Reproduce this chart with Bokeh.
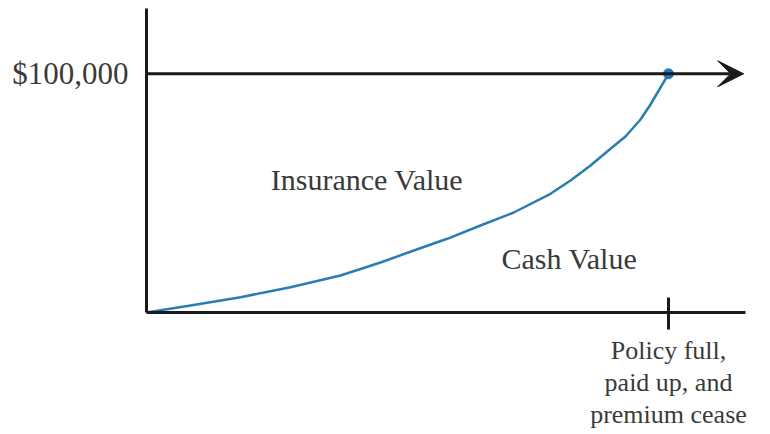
from bokeh.plotting import figure
from bokeh.models import FixedTicker, Arrow, VeeHead, Label
from bokeh.embed import file_html
from bokeh.resources import INLINE

# Data (x: time toward paid-up point = 100, y: dollars)
curve_x = [0, 8.43, 18.01, 27.59, 37.16, 44.83, 51.21, 57.61, 63.98, 70.36,
           77.39, 81.23, 85.06, 88.89, 91.76, 94.64, 96.55, 98.47, 100]
curve_y = [0, 2933, 6410, 10599, 15501, 20947, 25974, 30876, 36448, 41894,
           49728, 55300, 61584, 68580, 73733, 80855, 87140, 94262, 100000]
face_value = 100000
face_label = "$100,000"
paidup_x = 100
paidup_label = "Policy full,\npaid up, and\npremium cease"
region_labels = ["Insurance Value", "Cash Value"]
region_x = [23.8, 68.0]
region_y = [55700, 22700]

FONT = "Liberation Serif"
TXT = "#3a3a3a"
AX = "#1a1a1a"

p = figure(frame_width=599, frame_height=304, output_backend="svg", toolbar_location=None,
           x_range=(0, 114.75), y_range=(0, 127357),
           min_border_left=146, min_border_right=25, min_border_top=8,
           min_border_bottom=118)
p.grid.visible = False
p.outline_line_color = None
p.background_fill_color = "white"
p.border_fill_color = "white"

# left axis
ya = p.yaxis[0]
ya.ticker = FixedTicker(ticks=[face_value])
ya.major_label_overrides = {face_value: face_label}
ya.major_tick_in = 0
ya.major_tick_out = 0
ya.minor_tick_in = 0
ya.minor_tick_out = 0
ya.axis_line_width = 3
ya.axis_line_color = AX
ya.major_label_text_font = FONT
ya.major_label_text_font_size = "31px"
ya.major_label_text_color = TXT
ya.major_label_standoff = 18

# bottom axis
xa = p.xaxis[0]
xa.ticker = FixedTicker(ticks=[paidup_x])
xa.major_label_overrides = {paidup_x: paidup_label}
xa.major_tick_in = 15
xa.major_tick_out = 17
xa.major_tick_line_width = 3
xa.major_tick_line_color = AX
xa.minor_tick_in = 0
xa.minor_tick_out = 0
xa.axis_line_width = 3
xa.axis_line_color = AX
xa.major_label_text_font = FONT
xa.major_label_text_font_size = "26px"
xa.major_label_text_line_height = 1.12
xa.major_label_text_color = TXT
xa.major_label_standoff = 6
xa.major_label_text_align = "center"

# face value arrow
p.add_layout(Arrow(x_start=0, y_start=face_value, x_end=114.4, y_end=face_value,
                   line_width=3, line_color=AX,
                   end=VeeHead(size=26, fill_color=AX, line_color=AX)))

# cash value curve
p.line(curve_x, curve_y, line_width=2.5, line_color="#2a7db3", line_join="round")
p.scatter([curve_x[-1]], [curve_y[-1]], size=10, fill_color="#1f78c0", line_color="#1f78c0")

for t, x, y in zip(region_labels, region_x, region_y):
    p.add_layout(Label(x=x, y=y, text=t, text_font=FONT, text_font_size="30px",
                       text_color=TXT, text_baseline="alphabetic", text_align="left"))

open("out.html", "w").write(file_html(p, INLINE))
